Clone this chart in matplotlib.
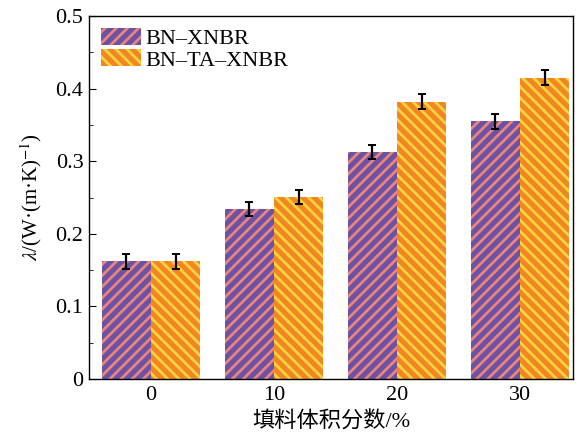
import numpy as np
import matplotlib
matplotlib.use("Agg")
import matplotlib.pyplot as plt
from matplotlib.ticker import MultipleLocator, FuncFormatter

# 数据
categories = ["0", "10", "20", "30"]
series_names = ["BN–XNBR", "BN–TA–XNBR"]
bn_xnbr = [0.162, 0.234, 0.313, 0.355]
bn_ta_xnbr = [0.162, 0.251, 0.382, 0.415]
err_bn_xnbr = [0.010, 0.010, 0.010, 0.010]
err_bn_ta_xnbr = [0.010, 0.010, 0.010, 0.010]

plt.rcParams["font.family"] = ["Liberation Serif", "Noto Sans CJK SC"]
plt.rcParams["mathtext.fontset"] = "stix"
plt.rcParams["hatch.linewidth"] = 2.0

fig = plt.figure(figsize=(5.84, 4.33), dpi=100)
ax = fig.add_axes([0.1524, 0.1247, 0.981 - 0.1524, 0.963 - 0.1247])

x = np.arange(len(categories))
w = 0.4

err_kw = dict(ecolor="black", elinewidth=1.6, capsize=3, capthick=1.4)
ax.bar(x - w / 2, bn_xnbr, w, color="#6a52a6", edgecolor="#ee8478",
       hatch="///", linewidth=0, yerr=err_bn_xnbr, error_kw=err_kw,
       label=series_names[0])
ax.bar(x + w / 2, bn_ta_xnbr, w, color="#f28524", edgecolor="#f9d43a",
       hatch="\\\\\\", linewidth=0, yerr=err_bn_ta_xnbr, error_kw=err_kw,
       label=series_names[1])

ax.set_xlim(-0.504, 3.43)
ax.set_ylim(0, 0.5)
ax.set_xticks(x)
ax.set_xticklabels(categories)
ax.yaxis.set_major_locator(MultipleLocator(0.1))
ax.yaxis.set_minor_locator(MultipleLocator(0.05))
ax.yaxis.set_major_formatter(FuncFormatter(lambda v, p: "0" if abs(v) < 1e-9 else f"{v:.1f}"))
ax.tick_params(axis="y", which="major", direction="in", length=5, labelsize=16, pad=4)
ax.tick_params(axis="y", which="minor", direction="in", length=3)
ax.tick_params(axis="x", length=0, labelsize=16, pad=5)

for s in ax.spines.values():
    s.set_linewidth(1.0)

ax.set_xlabel("填料体积分数/%", fontsize=16, labelpad=5)
ax.set_ylabel(r"$\lambda$/(W·(m·K)$^{-1}$)", fontsize=15, labelpad=8)

ax.legend(loc="upper left", frameon=False, fontsize=16, handlelength=1.8,
          handleheight=0.8, handletextpad=0.2, labelspacing=0.0,
          borderaxespad=0.25, borderpad=0.3)

plt.savefig("out.png", dpi=100)
